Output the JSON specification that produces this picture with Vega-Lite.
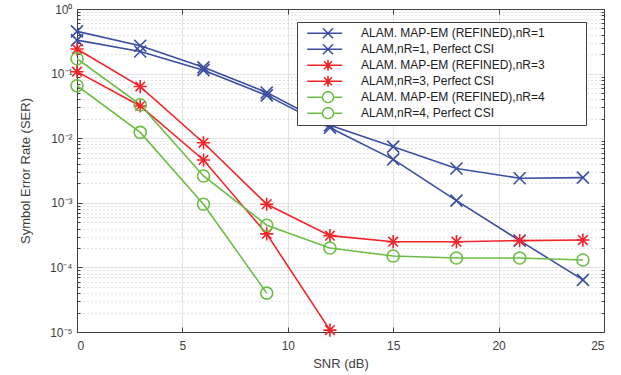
{
  "$schema": "https://vega.github.io/schema/vega-lite/v6.json",
  "width": 527,
  "height": 323,
  "autosize": {"type": "none"},
  "padding": {"left": 77, "top": 9, "right": 17, "bottom": 43},
  "background": "white",
  "config": {
    "view": {"stroke": null},
    "font": "Liberation Sans",
    "axis": {"labelFont": "Liberation Sans", "titleFont": "Liberation Sans", "labelColor": "#404040", "titleColor": "#404040", "labelFontSize": 12, "titleFontSize": 13, "titleFontWeight": "normal", "domainColor": "#404040", "tickColor": "#404040"}
  },
  "data": {
    "values": [
      {"s": "ALAM. MAP-EM (REFINED),nR=1", "x": 0, "y": 0.45},
      {"s": "ALAM. MAP-EM (REFINED),nR=1", "x": 3, "y": 0.27},
      {"s": "ALAM. MAP-EM (REFINED),nR=1", "x": 6, "y": 0.125},
      {"s": "ALAM. MAP-EM (REFINED),nR=1", "x": 9, "y": 0.051},
      {"s": "ALAM. MAP-EM (REFINED),nR=1", "x": 12, "y": 0.0158},
      {"s": "ALAM. MAP-EM (REFINED),nR=1", "x": 15, "y": 0.0074},
      {"s": "ALAM. MAP-EM (REFINED),nR=1", "x": 18, "y": 0.0034},
      {"s": "ALAM. MAP-EM (REFINED),nR=1", "x": 21, "y": 0.0024},
      {"s": "ALAM. MAP-EM (REFINED),nR=1", "x": 24, "y": 0.00245},
      {"s": "ALAM,nR=1, Perfect CSI", "x": 0, "y": 0.33},
      {"s": "ALAM,nR=1, Perfect CSI", "x": 3, "y": 0.22},
      {"s": "ALAM,nR=1, Perfect CSI", "x": 6, "y": 0.113},
      {"s": "ALAM,nR=1, Perfect CSI", "x": 9, "y": 0.046},
      {"s": "ALAM,nR=1, Perfect CSI", "x": 12, "y": 0.0145},
      {"s": "ALAM,nR=1, Perfect CSI", "x": 15, "y": 0.0047},
      {"s": "ALAM,nR=1, Perfect CSI", "x": 18, "y": 0.00108},
      {"s": "ALAM,nR=1, Perfect CSI", "x": 21, "y": 0.00026},
      {"s": "ALAM,nR=1, Perfect CSI", "x": 24, "y": 0.000064},
      {"s": "ALAM. MAP-EM (REFINED),nR=3", "x": 0, "y": 0.24},
      {"s": "ALAM. MAP-EM (REFINED),nR=3", "x": 3, "y": 0.063},
      {"s": "ALAM. MAP-EM (REFINED),nR=3", "x": 6, "y": 0.0085},
      {"s": "ALAM. MAP-EM (REFINED),nR=3", "x": 9, "y": 0.00095},
      {"s": "ALAM. MAP-EM (REFINED),nR=3", "x": 12, "y": 0.00031},
      {"s": "ALAM. MAP-EM (REFINED),nR=3", "x": 15, "y": 0.00025},
      {"s": "ALAM. MAP-EM (REFINED),nR=3", "x": 18, "y": 0.00025},
      {"s": "ALAM. MAP-EM (REFINED),nR=3", "x": 21, "y": 0.00026},
      {"s": "ALAM. MAP-EM (REFINED),nR=3", "x": 24, "y": 0.000265},
      {"s": "ALAM,nR=3, Perfect CSI", "x": 0, "y": 0.107},
      {"s": "ALAM,nR=3, Perfect CSI", "x": 3, "y": 0.0315},
      {"s": "ALAM,nR=3, Perfect CSI", "x": 6, "y": 0.0046},
      {"s": "ALAM,nR=3, Perfect CSI", "x": 9, "y": 0.00033},
      {"s": "ALAM,nR=3, Perfect CSI", "x": 12, "y": 0.0000107},
      {"s": "ALAM. MAP-EM (REFINED),nR=4", "x": 0, "y": 0.17},
      {"s": "ALAM. MAP-EM (REFINED),nR=4", "x": 3, "y": 0.033},
      {"s": "ALAM. MAP-EM (REFINED),nR=4", "x": 6, "y": 0.0026},
      {"s": "ALAM. MAP-EM (REFINED),nR=4", "x": 9, "y": 0.00045},
      {"s": "ALAM. MAP-EM (REFINED),nR=4", "x": 12, "y": 0.0002},
      {"s": "ALAM. MAP-EM (REFINED),nR=4", "x": 15, "y": 0.00015},
      {"s": "ALAM. MAP-EM (REFINED),nR=4", "x": 18, "y": 0.00014},
      {"s": "ALAM. MAP-EM (REFINED),nR=4", "x": 21, "y": 0.00014},
      {"s": "ALAM. MAP-EM (REFINED),nR=4", "x": 24, "y": 0.00013},
      {"s": "ALAM,nR=4, Perfect CSI", "x": 0, "y": 0.065},
      {"s": "ALAM,nR=4, Perfect CSI", "x": 3, "y": 0.0123},
      {"s": "ALAM,nR=4, Perfect CSI", "x": 6, "y": 0.00095},
      {"s": "ALAM,nR=4, Perfect CSI", "x": 9, "y": 0.00004}
    ]
  },
  "resolve": {"axis": {"x": "independent", "y": "independent"}, "scale": {"shape": "independent", "color": "independent"}, "legend": {"shape": "independent", "color": "independent"}},
  "layer": [
    {
      "mark": {"type": "line", "strokeWidth": 1.6, "clip": true},
      "encoding": {
        "x": {"field": "x", "type": "quantitative", "scale": {"domain": [0, 25], "nice": false},
          "axis": {"title": "SNR (dB)", "values": [0, 5, 10, 15, 20, 25], "grid": true, "gridColor": "#e3e3e3", "gridWidth": 1, "tickSize": -5, "labelPadding": 13, "titlePadding": 6}},
        "y": {"field": "y", "type": "quantitative", "scale": {"type": "log", "domain": [0.00001, 1], "nice": false},
          "axis": {"title": "Symbol Error Rate (SER)", "values": [0.00001, 0.0001, 0.001, 0.01, 0.1, 1], "grid": true, "gridColor": "#e3e3e3", "gridWidth": 1, "tickSize": -5, "labelPadding": 10, "titlePadding": 17,
            "labelExpr": "'10' + ['⁰','⁻¹','⁻²','⁻³','⁻⁴','⁻⁵'][round(-log(datum.value)/LN10)]"}},
        "color": {"field": "s", "type": "nominal",
          "scale": {"domain": ["ALAM. MAP-EM (REFINED),nR=1", "ALAM,nR=1, Perfect CSI", "ALAM. MAP-EM (REFINED),nR=3", "ALAM,nR=3, Perfect CSI", "ALAM. MAP-EM (REFINED),nR=4", "ALAM,nR=4, Perfect CSI"],
            "range": ["#3a4ea2", "#3a4ea2", "#f2242a", "#f2242a", "#6cbd45", "#6cbd45"]},
          "legend": null}
      }
    },
    {
      "mark": {"type": "point", "filled": false, "strokeWidth": 1.6, "size": 144, "opacity": 1, "clip": false},
      "encoding": {
        "x": {"field": "x", "type": "quantitative", "scale": {"domain": [0, 25], "nice": false},
          "axis": {"orient": "top", "title": null, "values": [0, 5, 10, 15, 20, 25], "labels": false, "grid": false, "tickSize": -5}},
        "y": {"field": "y", "type": "quantitative", "scale": {"type": "log", "domain": [0.00001, 1], "nice": false},
          "axis": {"orient": "right", "title": null, "labels": false, "grid": true, "gridColor": "#c8c8c8", "gridDash": [1, 3], "tickSize": -3,
            "values": [0.00002,0.00003,0.00004,0.00005,0.00006,0.00007,0.00008,0.00009,0.0002,0.0003,0.0004,0.0005,0.0006,0.0007,0.0008,0.0009,0.002,0.003,0.004,0.005,0.006,0.007,0.008,0.009,0.02,0.03,0.04,0.05,0.06,0.07,0.08,0.09,0.2,0.3,0.4,0.5,0.6,0.7,0.8,0.9]}},
        "color": {"field": "s", "type": "nominal",
          "scale": {"domain": ["ALAM. MAP-EM (REFINED),nR=1", "ALAM,nR=1, Perfect CSI", "ALAM. MAP-EM (REFINED),nR=3", "ALAM,nR=3, Perfect CSI", "ALAM. MAP-EM (REFINED),nR=4", "ALAM,nR=4, Perfect CSI"],
            "range": ["#3a4ea2", "#3a4ea2", "#f2242a", "#f2242a", "#6cbd45", "#6cbd45"]},
          "legend": null},
        "shape": {"field": "s", "type": "nominal",
          "scale": {"domain": ["ALAM. MAP-EM (REFINED),nR=1", "ALAM,nR=1, Perfect CSI", "ALAM. MAP-EM (REFINED),nR=3", "ALAM,nR=3, Perfect CSI", "ALAM. MAP-EM (REFINED),nR=4", "ALAM,nR=4, Perfect CSI"],
            "range": ["M-1,-1L1,1M-1,1L1,-1", "M-1,-1L1,1M-1,1L1,-1", "M0,-1.1L0,1.1M-1.1,0L1.1,0M-0.8,-0.8L0.8,0.8M-0.8,0.8L0.8,-0.8", "M0,-1.1L0,1.1M-1.1,0L1.1,0M-0.8,-0.8L0.8,0.8M-0.8,0.8L0.8,-0.8", "circle", "circle"]},
          "legend": null}
      }
    },
    {
      "transform": [{"filter": "datum.x < 0"}],
      "mark": {"type": "point", "filled": false, "strokeWidth": 1.6, "size": 144, "opacity": 1},
      "encoding": {
        "x": {"field": "x", "type": "quantitative", "axis": null},
        "y": {"field": "y", "type": "quantitative", "scale": {"type": "log", "domain": [0.00001, 1], "nice": false},
          "axis": {"orient": "left", "title": null, "labels": false, "grid": false, "domain": false, "tickSize": -3,
            "values": [0.00002,0.00003,0.00004,0.00005,0.00006,0.00007,0.00008,0.00009,0.0002,0.0003,0.0004,0.0005,0.0006,0.0007,0.0008,0.0009,0.002,0.003,0.004,0.005,0.006,0.007,0.008,0.009,0.02,0.03,0.04,0.05,0.06,0.07,0.08,0.09,0.2,0.3,0.4,0.5,0.6,0.7,0.8,0.9]}},
        "color": {"field": "s", "type": "nominal",
          "scale": {"domain": ["ALAM. MAP-EM (REFINED),nR=1", "ALAM,nR=1, Perfect CSI", "ALAM. MAP-EM (REFINED),nR=3", "ALAM,nR=3, Perfect CSI", "ALAM. MAP-EM (REFINED),nR=4", "ALAM,nR=4, Perfect CSI"],
            "range": ["#3a4ea2", "#3a4ea2", "#f2242a", "#f2242a", "#6cbd45", "#6cbd45"]},
          "legend": {"title": null, "orient": "none", "legendX": 220, "legendY": 13, "padding": 5, "strokeColor": "#404040", "fillColor": "white",
            "labelFont": "Liberation Sans", "labelFontSize": 12, "labelColor": "#202020", "labelOffset": 47, "labelLimit": 600, "rowPadding": 3, "clipHeight": 12.4,
            "labelExpr": "datum.label + '\u00a0\u00a0\u00a0\u00a0\u00a0\u00a0\u00a0\u00a0\u2800'"}},
        "shape": {"field": "s", "type": "nominal",
          "scale": {"domain": ["ALAM. MAP-EM (REFINED),nR=1", "ALAM,nR=1, Perfect CSI", "ALAM. MAP-EM (REFINED),nR=3", "ALAM,nR=3, Perfect CSI", "ALAM. MAP-EM (REFINED),nR=4", "ALAM,nR=4, Perfect CSI"],
            "range": ["M-0.17,0L6.83,0M3,-1L5,1M3,1L5,-1", "M-0.17,0L6.83,0M3,-1L5,1M3,1L5,-1",
              "M-0.17,0L6.83,0M4,-1.1L4,1.1M2.9,0L5.1,0M3.2,-0.8L4.8,0.8M3.2,0.8L4.8,-0.8", "M-0.17,0L6.83,0M4,-1.1L4,1.1M2.9,0L5.1,0M3.2,-0.8L4.8,0.8M3.2,0.8L4.8,-0.8",
              "M-0.17,0L2.9,0M5.1,0L6.83,0M5.1,0A1.1,1.1 0 1,1 2.9,0A1.1,1.1 0 1,1 5.1,0", "M-0.17,0L2.9,0M5.1,0L6.83,0M5.1,0A1.1,1.1 0 1,1 2.9,0A1.1,1.1 0 1,1 5.1,0"]},
          "legend": {"title": null, "orient": "none", "legendX": 220, "legendY": 13, "padding": 5, "strokeColor": "#404040", "fillColor": "white",
            "labelFont": "Liberation Sans", "labelFontSize": 12, "labelColor": "#202020", "labelOffset": 47, "labelLimit": 600, "rowPadding": 3, "clipHeight": 12.4,
            "labelExpr": "datum.label + '\u00a0\u00a0\u00a0\u00a0\u00a0\u00a0\u00a0\u00a0\u2800'"}}
      }
    }
  ]
}
